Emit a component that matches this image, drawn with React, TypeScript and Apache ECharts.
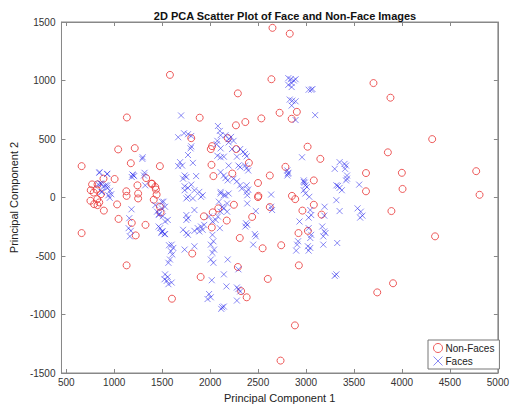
import React, { useEffect, useRef } from "react";
import * as echarts from "echarts";

const nonFaces: [number, number][] = [
  [2650, 1450], [2830, 1400], [1581, 1048], [2639, 1011], [3703, 978], [3880, 853],
  [2289, 890], [1132, 684], [1891, 682], [2724, 724], [2904, 732], [2850, 673],
  [2534, 676], [2367, 645], [2269, 617], [4315, 499], [1803, 507], [2183, 507],
  [3016, 434], [2020, 439], [2007, 414], [2272, 414], [1041, 411], [1214, 422],
  [3853, 386], [3149, 330], [2404, 296], [2014, 279], [1476, 268], [660, 268],
  [1173, 293], [2785, 262], [4774, 225], [3999, 211], [3625, 209], [2034, 183],
  [2231, 205], [2622, 188], [1333, 166], [1004, 158], [888, 161], [3081, 146],
  [2499, 124], [1395, 118], [1387, 118], [1428, 90], [1242, 104], [769, 112],
  [826, 112], [4006, 73], [1435, 68], [755, 62], [816, 68], [1126, 53],
  [3625, 53], [786, 42], [861, 28], [1249, 34], [1442, 25], [4809, 23],
  [2503, 14], [2853, 14], [1129, 14], [2499, 3], [1249, -8], [2887, -14],
  [823, -14], [1412, -19], [752, -28], [844, -42], [790, -57], [1030, -59],
  [2248, -62], [826, -65], [3081, -62], [1476, -79], [2622, -82], [2085, -93],
  [892, -112], [2962, -112], [3890, -116], [1483, -127], [2027, -127], [3162, -146],
  [1935, -161], [2438, -166], [1045, -183], [2173, -197], [1183, -217], [1326, -234],
  [2017, -256], [3019, -285], [660, -304], [2921, -304], [1224, -324], [4345, -332],
  [2309, -346], [2741, -408], [2547, -434], [1813, -479], [1129, -580], [2925, -580],
  [2289, -594], [1901, -679], [2601, -696], [3907, -733], [2323, -800], [3742, -811],
  [2381, -853], [1602, -865], [2884, -1093], [2734, -1394],
];

const faces: [number, number][] = [
  [2840, 1011], [2873, 1000], [2891, 1011], [2850, 978], [2815, 1020], [2815, 963],
  [2850, 944], [3027, 921], [3054, 921], [3067, 927], [2830, 837], [2857, 828],
  [2891, 822], [2850, 786], [3095, 704], [1697, 701], [2891, 662], [2081, 611],
  [2101, 569], [1728, 549], [1769, 541], [2109, 532], [2160, 532], [1803, 526],
  [2218, 518], [1667, 515], [2193, 499], [2075, 484], [2244, 484], [2193, 471],
  [2068, 456], [1803, 437], [1796, 420], [2109, 420], [2228, 414], [2313, 414],
  [2346, 391], [2364, 372], [1769, 363], [2075, 357], [2381, 352], [2109, 344],
  [2143, 349], [2279, 349], [2958, 344], [1296, 344], [1293, 330], [1687, 302],
  [1820, 296], [3350, 302], [3401, 287], [1708, 273], [1667, 268], [2193, 273],
  [2295, 273], [2364, 273], [3417, 273], [2313, 259], [2381, 251], [3299, 245],
  [3407, 245], [2805, 231], [2397, 231], [847, 217], [2109, 217], [1316, 211],
  [2815, 211], [844, 211], [925, 200], [928, 203], [2812, 203], [1198, 192],
  [1190, 197], [1310, 188], [1208, 183], [1734, 188], [2143, 188], [2805, 188],
  [3427, 188], [1854, 183], [1752, 175], [1183, 175], [1718, 161], [2160, 166],
  [2244, 161], [3427, 161], [2976, 146], [2183, 146], [3417, 146], [2279, 138],
  [2986, 127], [2976, 133], [854, 121], [867, 118], [833, 112], [1803, 110],
  [3554, 110], [908, 104], [928, 104], [1323, 104], [1734, 96], [2313, 104],
  [2381, 104], [2993, 104], [3316, 104], [3333, 99], [888, 90], [3009, 90],
  [928, 82], [1769, 82], [2330, 76], [3350, 82], [2397, 68], [956, 57],
  [1836, 62], [1734, 62], [2976, 62], [3373, 62], [871, 48], [867, 48],
  [1887, 48], [2109, 48], [2381, 48], [2193, 34], [2109, 34], [2993, 34],
  [969, 28], [2636, 25], [939, 19], [1922, 19], [2143, 19], [2160, 19],
  [2387, 19], [1769, 6], [1905, 6], [3034, 6], [953, -3], [1820, -8],
  [1752, -8], [3316, -23], [1497, -36], [1514, -36], [2091, -36], [2177, -51],
  [2387, -51], [1428, -65], [1530, -79], [1497, -93], [2126, -79], [2636, -79],
  [3193, -79], [2143, -93], [3537, -93], [1180, -101], [1836, -107], [2646, -107],
  [3044, -107], [1446, -121], [2109, -121], [2177, -121], [3571, -121], [1469, -141],
  [2476, -116], [3350, -116], [1463, -150], [1752, -150], [3054, -150], [3190, -155],
  [3588, -155], [1507, -160], [1989, -163], [2081, -163], [1157, -177], [1769, -177],
  [3027, -172], [3564, -172], [1558, -192], [1752, -192], [2058, -192], [1530, -205],
  [2024, -205], [2932, -205], [2374, -220], [2387, -234], [1938, -234], [2367, -248],
  [1463, -248], [1905, -248], [3169, -248], [1150, -262], [1479, -262], [1871, -262],
  [2101, -262], [3027, -262], [1718, -276], [1922, -276], [1173, -285], [1836, -285],
  [1497, -290], [1504, -290], [1887, -290], [3190, -290], [1752, -304], [1490, -304],
  [3203, -304], [1530, -313], [1524, -313], [2466, -313], [1769, -319], [2024, -319],
  [3054, -319], [1163, -332], [2476, -332], [3180, -332], [3044, -346], [2034, -374],
  [2917, -374], [3325, -389], [1599, -403], [2007, -403], [2449, -403], [2907, -403],
  [3180, -403], [1571, -408], [1836, -417], [3019, -417], [1616, -431], [3044, -431],
  [1734, -445], [2041, -445], [1591, -459], [2897, -454], [3027, -454], [2024, -473],
  [1606, -487], [1581, -530], [2007, -530], [2183, -530], [1565, -558], [2034, -558],
  [2295, -614], [1530, -657], [2143, -657], [3316, -657], [3299, -670], [1558, -679],
  [1524, -699], [2017, -707], [1548, -712], [1599, -727], [1565, -741], [2170, -760],
  [2279, -769], [2295, -783], [2313, -803], [1989, -825], [2007, -853], [1973, -868],
  [2279, -881], [2126, -938], [2143, -932], [2116, -952],
];

const xTicks = [500, 1000, 1500, 2000, 2500, 3000, 3500, 4000, 4500, 5000];

const CROSS = "path://M0,0L10,10M10,0L0,10";
const RED = "rgba(232,50,50,0.8)";
const BLUE = "rgba(40,40,235,0.55)";
const FONT = "Liberation Sans, Arial, Helvetica, sans-serif";

export default function App() {
  const ref = useRef<HTMLDivElement>(null);
  useEffect(() => {
    if (!ref.current) return;
    const chart = echarts.init(ref.current, undefined, { renderer: "svg" });
    const hiddenLabel = { show: false };
    const plain = (v: number) => String(v);
    chart.setOption({
      animation: false,
      backgroundColor: "#fff",
      textStyle: { fontFamily: FONT },
      title: {
        text: "2D PCA Scatter Plot of Face and Non-Face Images",
        left: 280,
        textAlign: "center",
        top: 5,
        textStyle: { fontSize: 11, fontWeight: "bold", color: "#111", fontFamily: FONT },
      },
      grid: {
        left: 57,
        right: 9,
        top: 22,
        bottom: 32,
        show: true,
        borderColor: "#888",
        borderWidth: 1,
        backgroundColor: "transparent",
      },
      legend: {
        orient: "vertical",
        left: 428,
        top: 340,
        padding: [3, 5, 3, 5],
        itemGap: 3,
        itemWidth: 9,
        itemHeight: 9,
        borderColor: "#777",
        borderWidth: 1,
        backgroundColor: "#fff",
        textStyle: { fontSize: 10, color: "#222", fontFamily: FONT, padding: [0, 0, 0, -2] },
        data: [
          { name: "Non-Faces", icon: "circle", itemStyle: { color: "transparent", borderColor: RED, borderWidth: 1 } },
          { name: "Faces", icon: CROSS, itemStyle: { color: "transparent", borderColor: BLUE, borderWidth: 1 } },
        ],
      },
      xAxis: [
        {
          type: "value",
          min: 450,
          max: 5000,
          name: "Principal Component 1",
          nameLocation: "middle",
          nameGap: 19,
          nameTextStyle: { fontSize: 11, color: "#222", fontFamily: FONT },
          axisLine: { show: true, onZero: false, lineStyle: { color: "#888" } },
          axisTick: { show: true, inside: true, length: 4, customValues: xTicks, lineStyle: { color: "#888" } },
          axisLabel: { show: true, customValues: xTicks, formatter: plain, fontSize: 10, color: "#333", margin: 4, fontFamily: FONT },
          splitLine: { show: false },
        },
        {
          type: "value",
          position: "top",
          min: 450,
          max: 5000,
          axisLine: { show: true, onZero: false, lineStyle: { color: "#888" } },
          axisTick: { show: true, inside: true, length: 4, customValues: xTicks, lineStyle: { color: "#888" } },
          axisLabel: hiddenLabel,
          splitLine: { show: false },
        },
      ],
      yAxis: [
        {
          type: "value",
          min: -1500,
          max: 1500,
          interval: 500,
          name: "Principal Component 2",
          nameLocation: "middle",
          nameGap: 39,
          nameTextStyle: { fontSize: 11, color: "#222", fontFamily: FONT },
          axisLine: { show: true, onZero: false, lineStyle: { color: "#888" } },
          axisTick: { show: true, inside: true, length: 4, lineStyle: { color: "#888" } },
          axisLabel: { formatter: plain, fontSize: 10, color: "#333", margin: 6, fontFamily: FONT },
          splitLine: { show: false },
        },
        {
          type: "value",
          position: "right",
          min: -1500,
          max: 1500,
          interval: 500,
          axisLine: { show: true, onZero: false, lineStyle: { color: "#888" } },
          axisTick: { show: true, inside: true, length: 4, lineStyle: { color: "#888" } },
          axisLabel: hiddenLabel,
          splitLine: { show: false },
        },
      ],
      series: [
        {
          name: "Non-Faces",
          type: "scatter",
          data: nonFaces,
          symbol: "circle",
          symbolSize: 7,
          itemStyle: { color: "transparent", borderColor: RED, borderWidth: 1, opacity: 1 },
          emphasis: { disabled: true },
        },
        {
          name: "Faces",
          type: "scatter",
          data: faces,
          symbol: CROSS,
          symbolSize: 6,
          itemStyle: { color: "transparent", borderColor: BLUE, borderWidth: 1, opacity: 1 },
          emphasis: { disabled: true },
        },
      ],
    });
    return () => chart.dispose();
  }, []);
  return <div ref={ref} style={{ width: 512, height: 408, position: "absolute", left: 0, top: 0 }} />;
}
